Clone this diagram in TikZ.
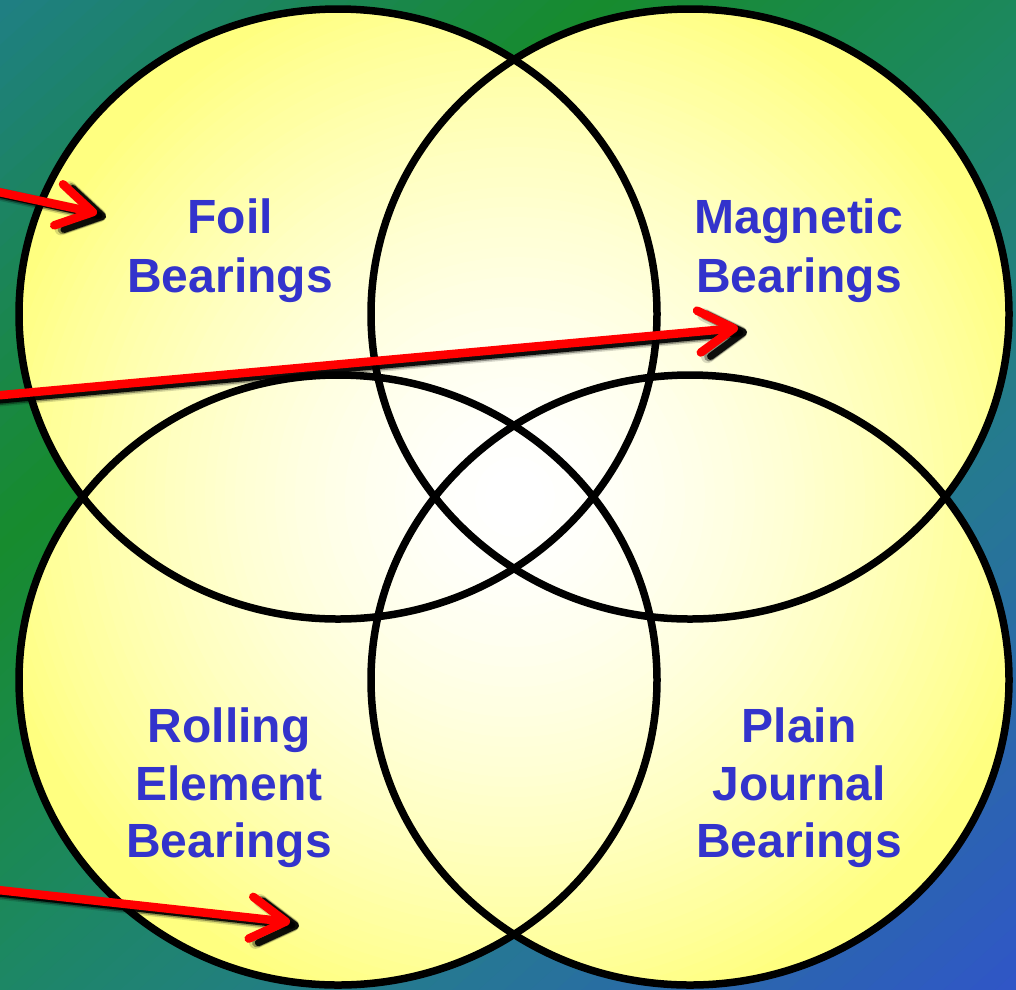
\documentclass[tikz,border=0pt]{standalone}
\usepackage{fontspec}
\setmainfont{Liberation Sans}
\usetikzlibrary{arrows.meta}
\definecolor{bgA}{HTML}{1F7F84}
\definecolor{bgB}{HTML}{178B2D}
\definecolor{bgC}{HTML}{1C8860}
\definecolor{bgD}{HTML}{257A90}
\definecolor{bgE}{HTML}{3055C8}
\definecolor{yel}{HTML}{FFFF80}
\definecolor{lblblue}{HTML}{3333CC}
\definecolor{arrred}{HTML}{FF0000}
\tikzset{
  venn/.style={draw=black, line width=7.5pt},
  lbl/.style={font=\fontsize{48}{56}\selectfont\bfseries, text=lblblue, inner sep=0pt, anchor=base},
  barbtip/.style={-{Straight Barb[length=35pt,width=42pt,round]}},
  redarrow/.style={draw=arrred, line width=8.5pt, line cap=round, barbtip},
  shadowarrow/.style={draw=black, line cap=round, barbtip, transform canvas={shift={(9pt,-4pt)}}},
}
\begin{document}
\begin{tikzpicture}[x=1pt,y=-1pt]
\useasboundingbox (0,0) rectangle (1016,989);
% background gradient
\begin{scope}
  \clip (0,0) rectangle (1016,989);
  \foreach \ua/\ub/\ca/\cb in {0/600/bgA/bgB,600/1050/bgB/bgC,1050/1500/bgC/bgD,1500/2120/bgD/bgE}{
    \foreach \k in {0,...,23}{
      \pgfmathsetmacro\uu{\ua+(\ub-\ua)*\k/24}
      \pgfmathsetmacro\uv{\ua+(\ub-\ua)*(\k+1)/24+1.5}
      \pgfmathtruncatemacro\pp{(\k+0.5)*100/24}
      \fill[\cb!\pp!\ca] (\uu,0) -- (\uv,0) -- (\uv-1110,1000) -- (\uu-1110,1000) -- cycle;
    }
  }
\end{scope}
% yellow fill of the union
\begin{scope}
  \clip (338,314) ellipse [x radius=319, y radius=305]
        (690,314) ellipse [x radius=319, y radius=305]
        (338,680) ellipse [x radius=319, y radius=305]
        (690,680) ellipse [x radius=319, y radius=305];
  \foreach \i in {0,...,59}{
    \pgfmathsetmacro\rr{600-10*\i}
    \pgfmathtruncatemacro\pp{min(100,100*(\rr/540)^1.6)}
    \fill[yel!\pp!white] (515,497) circle [radius=\rr];
  }
\end{scope}
% outlines
\draw[venn] (338,314) ellipse [x radius=319, y radius=305];
\draw[venn] (690,314) ellipse [x radius=319, y radius=305];
\draw[venn] (338,680) ellipse [x radius=319, y radius=305];
\draw[venn] (690,680) ellipse [x radius=319, y radius=305];
% labels
\node[lbl] (foil1) at (230,233) {Foil};
\node[lbl] (foil2) at (230,292) {Bearings};
\node[lbl] (mag1) at (799,233) {Magnetic};
\node[lbl] (mag2) at (799,292) {Bearings};
\node[lbl] (roll1) at (229,742) {Rolling};
\node[lbl] (roll2) at (229,800) {Element};
\node[lbl] (roll3) at (229,857) {Bearings};
\node[lbl] (plain1) at (799,742) {Plain};
\node[lbl] (plain2) at (799,800) {Journal};
\node[lbl] (plain3) at (799,857) {Bearings};
% arrows
\coordinate (a1s) at (-20,188);
\coordinate (a1e) at (97,213);
\coordinate (a2s) at (-20,397);
\coordinate (a2e) at (738,328);
\coordinate (a3s) at (-20,888);
\coordinate (a3e) at (290,922);
\foreach \s/\e in {a1s/a1e,a2s/a2e,a3s/a3e}{
  \draw[shadowarrow, line width=13pt, opacity=.15] (\s) -- (\e);
  \draw[shadowarrow, line width=10pt, opacity=.35] (\s) -- (\e);
  \draw[shadowarrow, line width=7pt, opacity=.9] (\s) -- (\e);
  \draw[redarrow] (\s) -- (\e);
}
\end{tikzpicture}
\end{document}
